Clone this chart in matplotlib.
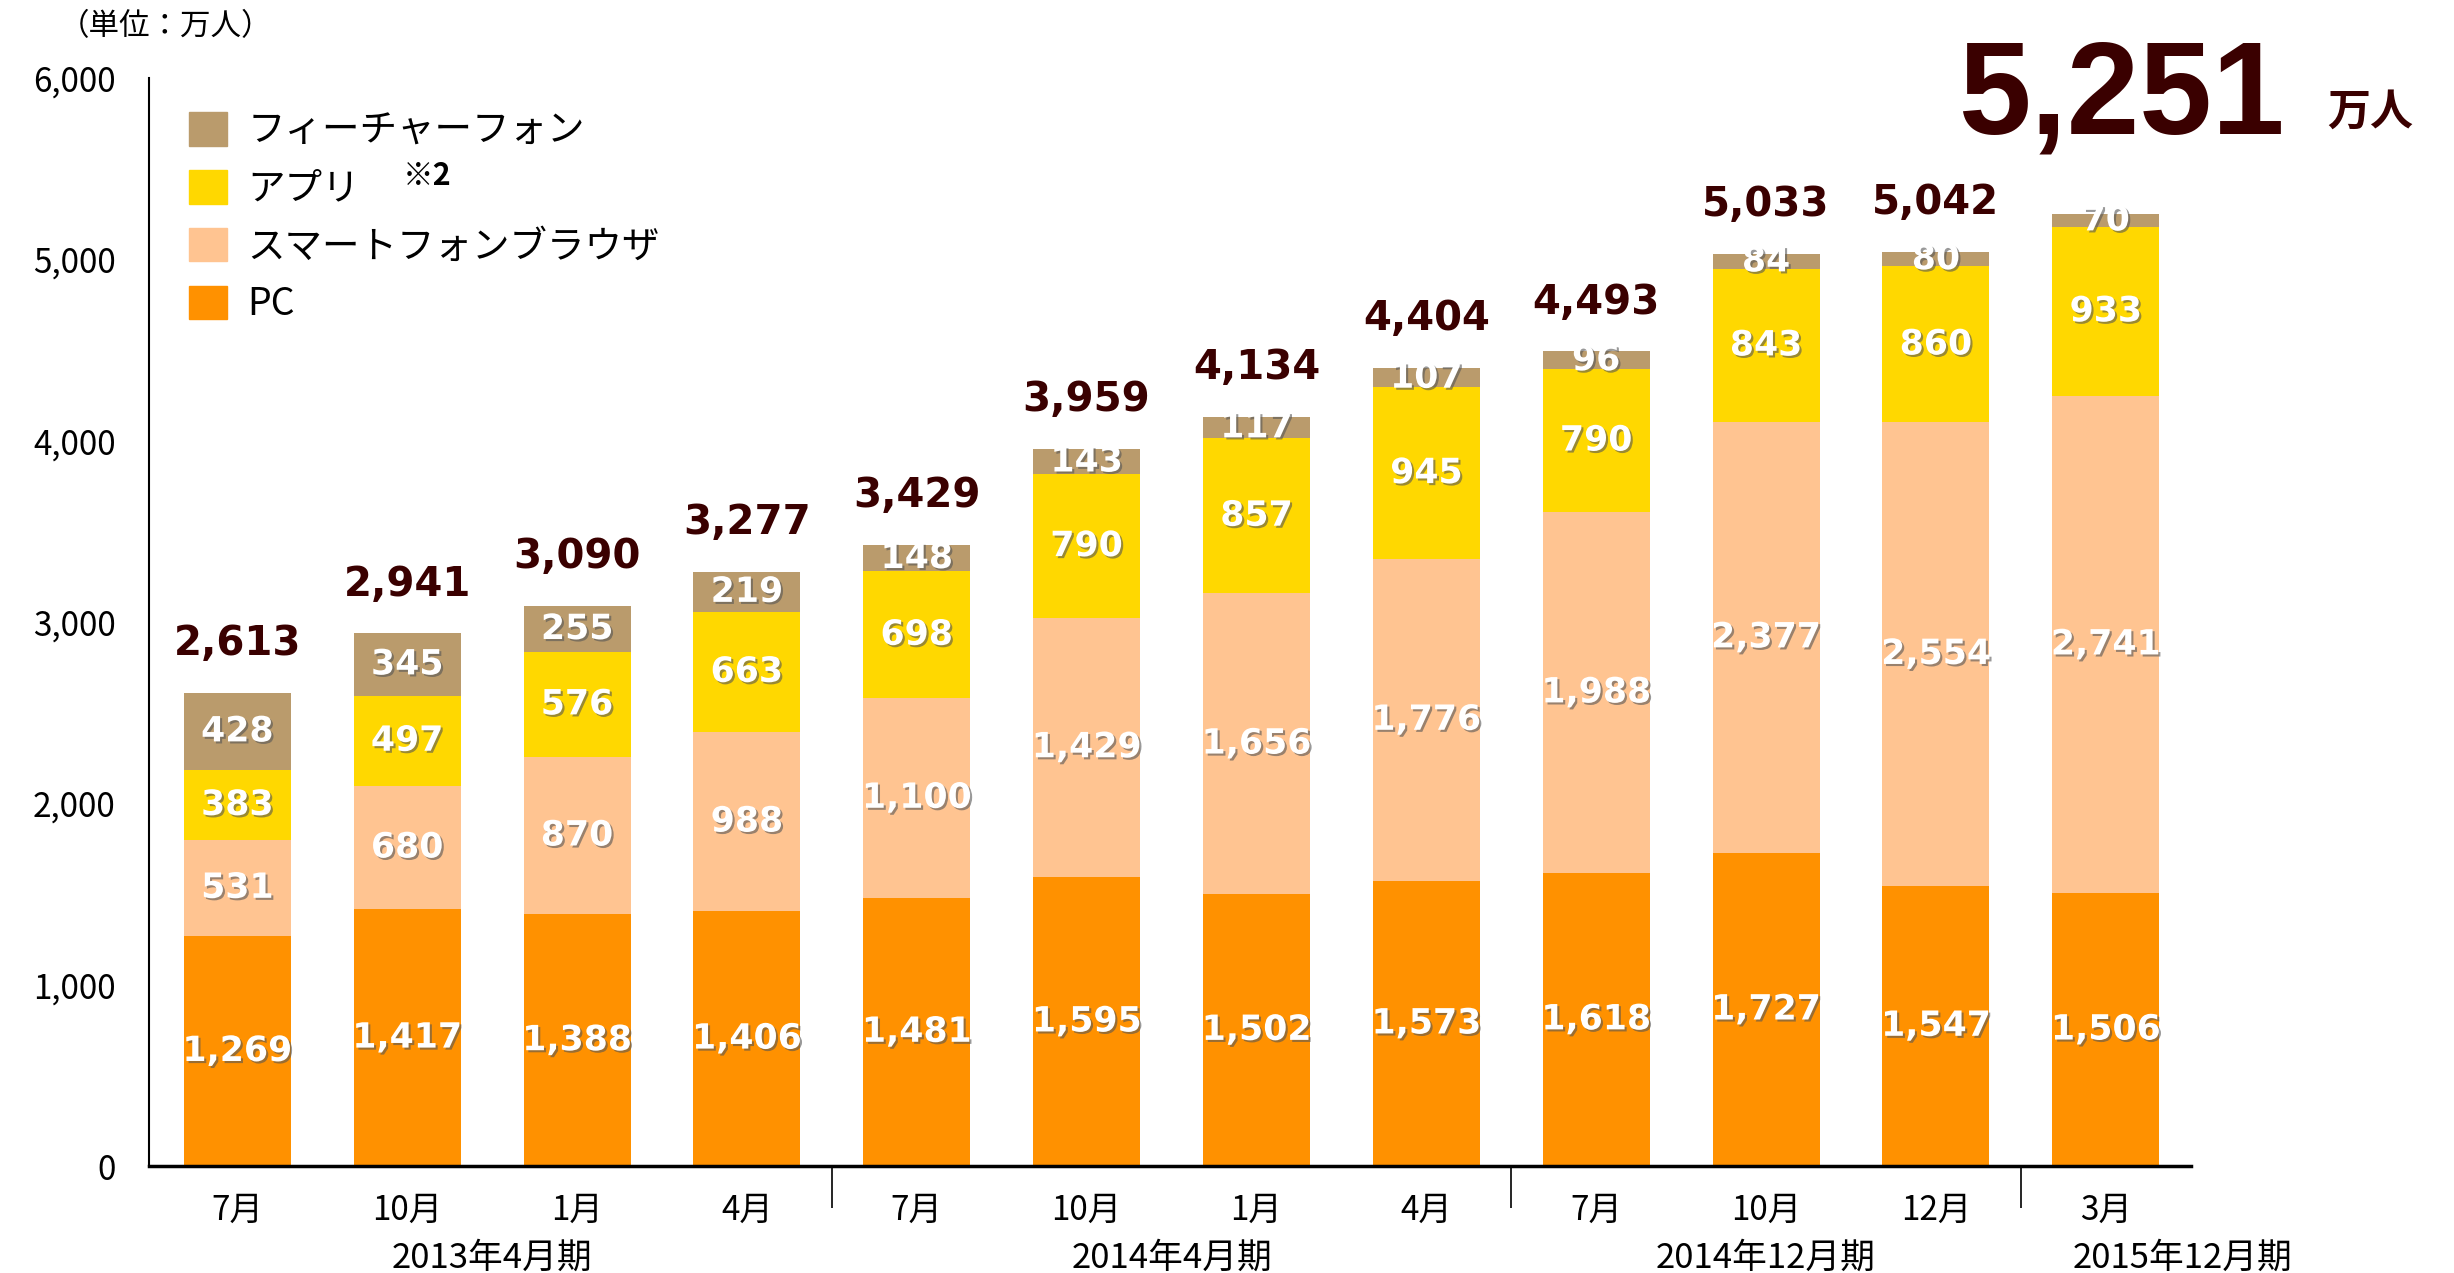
import matplotlib
matplotlib.use("Agg")
import matplotlib.pyplot as plt
import matplotlib.patheffects as pe
from matplotlib.patches import Patch
from matplotlib.transforms import blended_transform_factory

plt.rcParams['font.family'] = ['Noto Sans CJK JP', 'DejaVu Sans']

# data (万人)
months = ['7月', '10月', '1月', '4月', '7月', '10月', '1月', '4月', '7月', '10月', '12月', '3月']
pc = [1269, 1417, 1388, 1406, 1481, 1595, 1502, 1573, 1618, 1727, 1547, 1506]
sp_browser = [531, 680, 870, 988, 1100, 1429, 1656, 1776, 1988, 2377, 2554, 2741]
app = [383, 497, 576, 663, 698, 790, 857, 945, 790, 843, 860, 933]
feature = [428, 345, 255, 219, 148, 143, 117, 107, 96, 84, 80, 70]
totals = [2613, 2941, 3090, 3277, 3429, 3959, 4134, 4404, 4493, 5033, 5042, 5251]
periods = ['2013年4月期', '2014年4月期', '2014年12月期', '2015年12月期']
period_pos = [1.5, 5.5, 9.0, 11.45]
period_breaks = [3.5, 7.5, 10.5]

c_pc = '#FF9100'
c_sp = '#FFC491'
c_app = '#FFD800'
c_fp = '#BA9B6C'
c_total = '#3A0000'

fig = plt.figure(figsize=(24.54, 12.73), dpi=100)
ax = fig.add_axes([0.0607, 0.084, 0.832, 0.8547])

x = list(range(len(months)))
w = 0.63
b1 = pc
b2 = [a + b for a, b in zip(b1, sp_browser)]
b3 = [a + b for a, b in zip(b2, app)]
tops = [a + b for a, b in zip(b3, feature)]

ax.bar(x, pc, w, color=c_pc)
ax.bar(x, sp_browser, w, bottom=b1, color=c_sp)
ax.bar(x, app, w, bottom=b2, color=c_app)
ax.bar(x, feature, w, bottom=b3, color=c_fp)

shadow = [pe.SimplePatchShadow(offset=(1.5, -1.5), shadow_rgbFace='#555555', alpha=0.6), pe.Normal()]
lab_kw = dict(ha='center', va='center', color='white', fontsize=25, fontweight='bold',
              family='DejaVu Sans', path_effects=shadow)
for vals, bottoms in [(pc, [0] * 12), (sp_browser, b1), (app, b2), (feature, b3)]:
    for i, (v, b) in enumerate(zip(vals, bottoms)):
        ax.text(i, b + v / 2, f'{v:,}', **lab_kw)

# totals above bars (last one shown big at top right)
for i in range(len(totals) - 1):
    ax.annotate(f'{totals[i]:,}', (i, tops[i]), xytext=(0, 35), textcoords='offset points',
                ha='center', va='center', fontsize=29, fontweight='bold',
                family='DejaVu Sans', color=c_total)

fig.text(0.931, 0.922, f'{totals[-1]:,}', ha='right', va='center', fontsize=94,
         fontweight='bold', family='Liberation Sans', color=c_total)
fig.text(0.966, 0.912, '万人', ha='center', va='center', fontsize=31, fontweight='bold',
         color=c_total)

ax.set_xlim(-0.52, 11.5)
ax.set_ylim(0, 6000)
ax.set_yticks([0, 1000, 2000, 3000, 4000, 5000, 6000])
ax.set_yticklabels([f'{v:,}' for v in [0, 1000, 2000, 3000, 4000, 5000, 6000]])
ax.set_xticks(x)
ax.set_xticklabels(months)
ax.set_xticks(period_breaks, minor=True)
ax.tick_params(axis='y', length=0, pad=24, labelsize=24)
ax.tick_params(axis='x', which='major', length=0, pad=19, labelsize=24)
ax.tick_params(axis='x', which='minor', length=30, width=1.2, direction='out')

for s in ['top', 'right']:
    ax.spines[s].set_visible(False)
ax.spines['bottom'].set_linewidth(2.5)
ax.spines['left'].set_linewidth(1.5)

trans = blended_transform_factory(ax.transData, ax.transAxes)
for p, xp in zip(periods, period_pos):
    ax.text(xp, -0.085, p, transform=trans, ha='center', va='center', fontsize=25)

fig.text(0.024, 0.979, '（単位：万人）', ha='left', va='center', fontsize=22)

handles = [Patch(color=c_fp), Patch(color=c_app), Patch(color=c_sp), Patch(color=c_pc)]
labels = ['フィーチャーフォン', 'アプリ', 'スマートフォンブラウザ', 'PC']
ax.legend(handles, labels, loc='upper left', bbox_to_anchor=(0.007, 0.993), frameon=False,
          fontsize=27, handlelength=1.0, handleheight=1.0, handletextpad=0.55,
          labelspacing=0.5, borderaxespad=0.3)
fig.text(0.164, 0.862, '※2', ha='left', va='center', fontsize=22, fontweight='bold')

fig.savefig('out.png', dpi=100)
